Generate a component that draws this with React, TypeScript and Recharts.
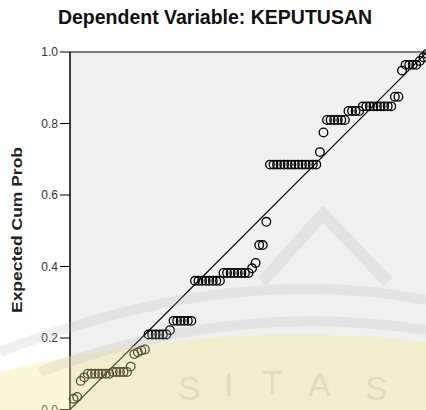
import React from 'react';
import {
  ScatterChart,
  Scatter,
  XAxis,
  YAxis,
  CartesianGrid,
  ReferenceLine,
} from 'recharts';

const observed = [
  0.01, 0.02, 0.03, 0.04,
  0.05, 0.06, 0.07, 0.08, 0.09, 0.10, 0.11, 0.12, 0.13, 0.14, 0.15, 0.16,
  0.17, 0.18, 0.19, 0.20, 0.21,
  0.22, 0.23, 0.24, 0.25, 0.26, 0.27, 0.28,
  0.29, 0.30, 0.31, 0.32, 0.33, 0.34,
  0.35, 0.36, 0.37, 0.38, 0.39, 0.40, 0.41, 0.42,
  0.43, 0.44, 0.45, 0.46, 0.47, 0.48, 0.49, 0.50,
  0.51, 0.52, 0.53, 0.54, 0.55,
  0.56, 0.57, 0.58, 0.59, 0.60, 0.61, 0.62, 0.63, 0.64, 0.65, 0.66, 0.67, 0.68, 0.69,
  0.70, 0.71,
  0.72, 0.73, 0.74, 0.75, 0.76, 0.77,
  0.78, 0.79, 0.80, 0.81,
  0.82, 0.83, 0.84, 0.85, 0.86, 0.87, 0.88, 0.89, 0.90,
  0.91, 0.92, 0.93,
  0.94, 0.95, 0.96, 0.97, 0.98, 0.99, 1.00,
];

const expected = [
  0.03, 0.035, 0.08, 0.09,
  0.10, 0.10, 0.10, 0.10, 0.10, 0.10, 0.10, 0.105, 0.105, 0.105, 0.105, 0.105,
  0.12, 0.155, 0.16, 0.165, 0.168,
  0.21, 0.21, 0.21, 0.21, 0.21, 0.21, 0.222,
  0.248, 0.248, 0.248, 0.248, 0.248, 0.248,
  0.36, 0.36, 0.36, 0.36, 0.36, 0.36, 0.36, 0.36,
  0.382, 0.382, 0.382, 0.382, 0.382, 0.382, 0.382, 0.382,
  0.395, 0.41, 0.46, 0.46, 0.525,
  0.685, 0.685, 0.685, 0.685, 0.685, 0.685, 0.685, 0.685, 0.685, 0.685, 0.685, 0.685, 0.685, 0.685,
  0.72, 0.775,
  0.81, 0.81, 0.81, 0.81, 0.81, 0.81,
  0.835, 0.835, 0.835, 0.835,
  0.848, 0.848, 0.848, 0.848, 0.848, 0.848, 0.848, 0.848, 0.848,
  0.875, 0.875, 0.948,
  0.964, 0.964, 0.964, 0.964, 0.975, 0.985, 0.995,
];

const yTicks = [0, 0.2, 0.4, 0.6, 0.8, 1.0];

const points = observed.map((x, i) => ({ x, y: expected[i] }));

const font = 'Arial, "Liberation Sans", sans-serif';

const Ring = (props: any) => {
  const { cx, cy } = props;
  if (cx == null || cy == null) return null;
  return <circle cx={cx} cy={cy} r={4.3} fill="none" stroke="#000" strokeWidth={1.3} />;
};

// faint university logo that sits over the original image
const Watermark = () => (
  <svg
    width={426}
    height={410}
    style={{ position: 'absolute', left: 0, top: 0, pointerEvents: 'none' }}
  >
    <path d="M0 410 L0 372 Q220 318 426 342 L426 410 Z" fill="#f4ec8c" opacity={0.35} />
    <g fill="none" stroke="#b8b8b8" opacity={0.22}>
      <polyline points="262,282 323,214 388,282" strokeWidth={12} />
      <path d="M0 352 Q230 262 426 300" strokeWidth={10} />
      <path d="M40 372 Q230 300 426 330" strokeWidth={10} />
    </g>
    <g fill="#a8a8a8" opacity={0.25} fontFamily={font} fontSize={34}>
      <text x={178} y={400}>S</text>
      <text x={224} y={396}>I</text>
      <text x={262} y={394}>T</text>
      <text x={308} y={396}>A</text>
      <text x={365} y={400}>S</text>
    </g>
  </svg>
);

export default function App() {
  return (
    <div
      style={{
        position: 'absolute',
        left: 0,
        top: 0,
        width: 426,
        height: 410,
        overflow: 'hidden',
        background: '#fff',
      }}
    >
      <ScatterChart
        width={440}
        height={440}
        margin={{ top: 52, right: 13, left: 0, bottom: 30.5 }}
      >
        <CartesianGrid fill="#f0f0f0" stroke="none" horizontal={false} vertical={false} />
        <XAxis type="number" dataKey="x" domain={[0, 1]} hide />
        <YAxis
          type="number"
          dataKey="y"
          domain={[0, 1]}
          ticks={yTicks}
          width={70}
          tickFormatter={(v: number) => v.toFixed(1)}
          tick={{ fill: '#333', fontSize: 12, fontFamily: font }}
          tickSize={10}
          tickLine={{ stroke: '#000' }}
          axisLine={{ stroke: '#000', strokeWidth: 1.5 }}
        />
        <ReferenceLine y={1} stroke="#555" strokeWidth={1.5} />
        <ReferenceLine
          segment={[{ x: 0, y: 0 }, { x: 1, y: 1 }]}
          stroke="#000"
          strokeWidth={1.2}
        />
        <Scatter data={points} shape={Ring} isAnimationActive={false} />
      </ScatterChart>
      <svg
        width={426}
        height={410}
        style={{ position: 'absolute', left: 0, top: 0, pointerEvents: 'none' }}
      >
        <text
          x={215}
          y={24}
          textAnchor="middle"
          fontFamily={font}
          fontWeight="bold"
          fontSize={19.5}
          fill="#111"
        >
          Dependent Variable: KEPUTUSAN
        </text>
        <text
          transform="translate(22,230) rotate(-90)"
          textAnchor="middle"
          fontFamily={font}
          fontWeight="bold"
          fontSize={15}
          fill="#222"
          textLength={166}
          lengthAdjust="spacingAndGlyphs"
        >
          Expected Cum Prob
        </text>
      </svg>
      <Watermark />
    </div>
  );
}
